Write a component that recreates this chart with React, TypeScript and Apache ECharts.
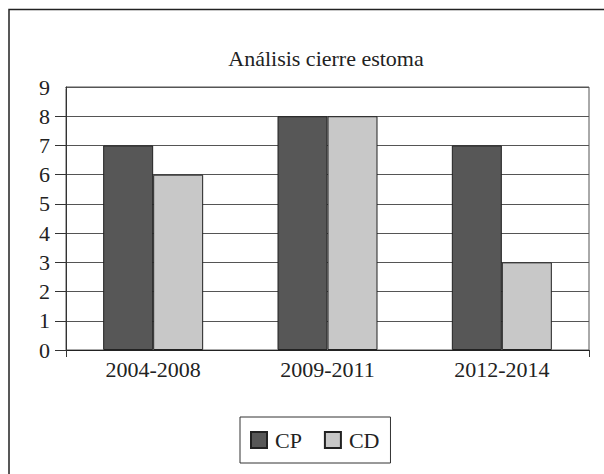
import React, { useEffect, useRef } from "react";
import * as echarts from "echarts";

const categories = ["2004-2008", "2009-2011", "2012-2014"];
const seriesNames = ["CP", "CD"];
const cpValues = [7, 8, 7];
const cdValues = [6, 8, 3];
const titleText = "Análisis cierre estoma";

const FONT = "Liberation Serif";

export default function App() {
  const ref = useRef<HTMLDivElement>(null);
  useEffect(() => {
    document.body.style.margin = "0";
    const chart = echarts.init(ref.current!, null, { renderer: "svg" });
    chart.setOption({
      animation: false,
      backgroundColor: "#ffffff",
      title: {
        text: titleText,
        left: 321,
        textAlign: "center",
        top: 42,
        textStyle: { fontFamily: FONT, fontSize: 22, fontWeight: "normal", color: "#222" },
      },
      graphic: [
        {
          type: "polyline",
          shape: { points: [[9, 474], [9, 9.5], [604, 9.5]] },
          style: { stroke: "#222", lineWidth: 1.5, fill: "none" },
          silent: true,
        },
        {
          type: "rect",
          z: 100,
          shape: { x: 53, y: 84, width: 12.4, height: 5 },
          style: { fill: "#ffffff" },
          silent: true,
        },
      ],
      legend: {
        data: seriesNames,
        left: 240,
        top: 417,
        orient: "horizontal",
        icon: "rect",
        itemWidth: 16,
        itemHeight: 16,
        itemGap: 22,
        padding: [12, 11, 12, 10],
        borderColor: "#333",
        borderWidth: 1,
        borderRadius: 0,
        textStyle: { fontFamily: FONT, fontSize: 22, color: "#222", padding: [0, 0, 0, 3] },
      },
      grid: {
        left: 66,
        right: 15,
        top: 87,
        bottom: 124,
        show: true,
        borderColor: "#555",
        borderWidth: 1,
      },
      xAxis: {
        type: "category",
        data: categories,
        boundaryGap: true,
        axisLine: { show: true, lineStyle: { color: "#222", width: 1 } },
        axisTick: {
          show: true,
          interval: (index: number) => index === 0,
          length: 7,
          lineStyle: { color: "#333" },
        },
        axisLabel: { fontFamily: FONT, fontSize: 22, color: "#222", margin: 8 },
      },
      yAxis: {
        type: "value",
        min: 0,
        max: 9,
        interval: 1,
        axisLine: { show: true, lineStyle: { color: "#333", width: 1 } },
        axisTick: { show: true, length: 11, lineStyle: { color: "#333" } },
        axisLabel: { fontFamily: FONT, fontSize: 22, color: "#222", margin: 16 },
        splitLine: { show: true, lineStyle: { color: "#555", width: 1 } },
      },
      series: [
        {
          name: seriesNames[0],
          type: "bar",
          data: cpValues,
          barWidth: 50,
          barGap: "0%",
          itemStyle: { color: "#575757", borderColor: "#222", borderWidth: 1 },
        },
        {
          name: seriesNames[1],
          type: "bar",
          data: cdValues,
          barWidth: 50,
          barGap: "0%",
          itemStyle: { color: "#c8c8c8", borderColor: "#222", borderWidth: 1 },
        },
      ],
    });
    return () => chart.dispose();
  }, []);
  return <div ref={ref} style={{ width: 604, height: 474 }} />;
}
